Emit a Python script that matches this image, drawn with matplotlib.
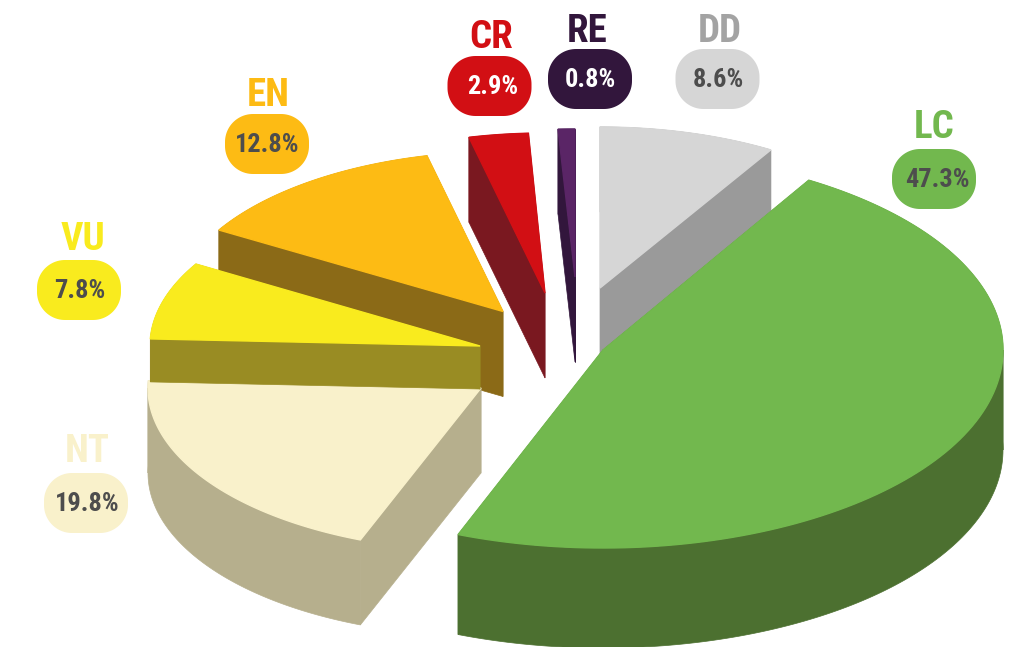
import numpy as np
import matplotlib
matplotlib.use('Agg')
import matplotlib.pyplot as plt

# --- DATA ---
codes = ['DD', 'LC', 'NT', 'VU', 'EN', 'CR', 'RE']
values = [8.6, 47.3, 19.8, 7.8, 12.8, 2.9, 0.8]

# --- STYLE (same order as codes) ---
top_colors = ['#D6D6D6', '#72B84E', '#F9F1CB', '#F9EB1E', '#FDBB14', '#D20F14', '#5A2566']
side_colors = ['#9A9A9A', '#4C7030', '#B6AF8D', '#998C23', '#8B6A17', '#7A1820', '#32163C']
pill_colors = ['#D6D6D6', '#72B84E', '#F9F1CB', '#F9EB1E', '#FDBB14', '#D20F14', '#32163C']
code_colors = ['#A3A3A3', '#72B84E', '#F9F1CB', '#F9EB1E', '#FDBB14', '#D20F14', '#32163C']
pct_colors = ['#4D4D4D', '#4D4D4D', '#4D4D4D', '#4D4D4D', '#4D4D4D', '#FFFFFF', '#FFFFFF']

apex = [(600, 288), (603, 350), (481, 388), (480, 346), (503, 311.5), (545, 293), (575, 277)]
radius_x = [332, 400, 333, 330, 330, 330, 338]
radius_y = [161, 198, 163, 161, 160, 160, 148]
depth = [85, 100, 85, 43, 85, 85, 85]

pill_centers = [(717.5, 79), (934, 179), (86, 503), (79, 290), (267, 144), (489.5, 86), (590, 79)]
pct_centers = [(718.5, 80), (937, 180), (87.5, 504), (80, 291), (267.5, 145), (492.5, 87), (590, 80)]
code_centers = [(720, 31), (934, 127), (87, 452), (83, 239), (268, 95), (491, 37), (587, 32)]
PILL_W = 84
PILL_H = 60
PILL_R = 28

# back slices first, LC goes on top of everything
draw_order = [0, 6, 5, 4, 2, 3, 1]

plt.rcParams['font.family'] = ['Roboto Condensed', 'Liberation Sans', 'DejaVu Sans']

fig = plt.figure(figsize=(10.23, 6.47), dpi=100)
ax = fig.add_axes([0, 0, 1, 1])
ax.set_xlim(0, 1023)
ax.set_ylim(647, 0)
ax.axis('off')

# angles clockwise from the top, in percent turned to degrees
ends = np.cumsum(values) * 3.6
starts = ends - np.array(values) * 3.6


def arc(i, a, b):
    t = np.radians(np.linspace(a, b, 120))
    return apex[i][0] + radius_x[i] * np.sin(t), apex[i][1] - radius_y[i] * np.cos(t)


def pill(cx, cy):
    # four true circular corners
    xs, ys = [], []
    dx = PILL_W / 2 - PILL_R
    dy = PILL_H / 2 - PILL_R
    for sx, sy, a0 in ((1, -1, 0), (1, 1, 90), (-1, 1, 180), (-1, -1, 270)):
        t = np.radians(np.linspace(a0, a0 + 90, 24))
        xs.extend(cx + sx * dx + PILL_R * np.sin(t))
        ys.extend(cy + sy * dy - PILL_R * np.cos(t))
    return xs, ys


for pos, i in enumerate(draw_order):
    d = depth[i]
    c = side_colors[i]
    z = pos * 2 + 1
    ax0, ay0 = apex[i]

    # outer wall, cut where x turns back so each piece is a clean polygon
    cuts = [starts[i]] + [q for q in (90, 270) if starts[i] < q < ends[i]] + [ends[i]]
    for a, b in zip(cuts[:-1], cuts[1:]):
        xs, ys = arc(i, a, b)
        ax.fill(np.r_[xs, xs[::-1]], np.r_[ys, ys[::-1] + d], color=c, lw=0.5, zorder=z)

    # the two flat cut faces
    xs, ys = arc(i, starts[i], ends[i])
    for ex, ey in ((xs[0], ys[0]), (xs[-1], ys[-1])):
        ax.fill([ax0, ex, ex, ax0], [ay0, ey, ey + d, ay0 + d], color=c, lw=0.5, zorder=z)

    ax.fill(np.r_[ax0, xs], np.r_[ay0, ys], color=top_colors[i], lw=1, zorder=z + 1)

# --- LABELS ---
for i, code in enumerate(codes):
    px, py = pill(*pill_centers[i])
    ax.fill(px, py, color=pill_colors[i], lw=0, zorder=30)
    ax.text(pct_centers[i][0], pct_centers[i][1], f'{values[i]}%', color=pct_colors[i],
            fontsize=19, fontweight='bold', ha='center', va='center', zorder=31)
    ax.text(code_centers[i][0], code_centers[i][1], code, color=code_colors[i],
            fontsize=28, fontweight='bold', ha='center', va='center', zorder=31)

fig.savefig('out.png', dpi=100)
